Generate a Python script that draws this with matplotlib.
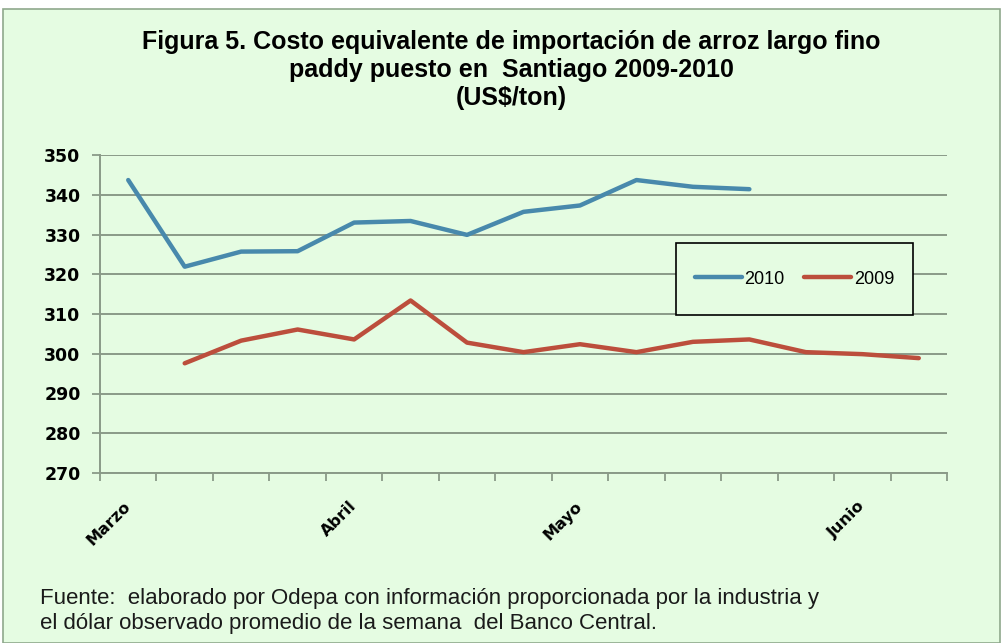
import matplotlib
matplotlib.use("Agg")
import matplotlib.pyplot as plt
from matplotlib.patches import Rectangle
from matplotlib.ticker import FixedLocator, NullFormatter

# ---- data ----
categories = list(range(15))
month_labels = {0: "Marzo", 4: "Abril", 8: "Mayo", 13: "Junio"}
s2010 = [343.7, 321.9, 325.7, 325.8, 333.0, 333.4, 329.9, 335.7, 337.3, 343.7, 342.0, 341.4,
         None, None, None]
s2009 = [None, 297.6, 303.3, 306.1, 303.6, 313.4, 302.8, 300.4, 302.4, 300.4, 303.0, 303.6,
         300.4, 299.9, 298.9]
yticks = [270, 280, 290, 300, 310, 320, 330, 340, 350]

title = ("Figura 5. Costo equivalente de importación de arroz largo fino\n"
         "paddy puesto en  Santiago 2009-2010\n(US$/ton)")
footer = ("Fuente:  elaborado por Odepa con información proporcionada por la industria y\n"
          "el dólar observado promedio de la semana  del Banco Central.")

BG = "#E5FCE2"
GRID = "#8A9A88"
C2010 = "#4889AC"
C2009 = "#BC4E3C"

W, H = 1004, 643
fig = plt.figure(figsize=(W / 100, H / 100), dpi=100, facecolor="white")

# background panel
fig.patches.append(Rectangle((3 / W, 0), (1000 - 3) / W, (643 - 9) / H,
                             transform=fig.transFigure, facecolor=BG,
                             edgecolor="#8FA88C", linewidth=1.2, zorder=-10))

ax = fig.add_axes([100 / W, 1 - 473 / H, (947 - 100) / W, (473 - 155) / H])
ax.set_facecolor("none")
ax.set_zorder(2)

xs = categories
y10 = [v if v is not None else float("nan") for v in s2010]
y09 = [v if v is not None else float("nan") for v in s2009]
l1, = ax.plot(xs, y10, color=C2010, lw=3.2, solid_capstyle="round", label="2010", zorder=3)
l2, = ax.plot(xs, y09, color=C2009, lw=3.2, solid_capstyle="round", label="2009", zorder=3)

ax.set_xlim(-0.5, len(categories) - 0.5)
ax.set_ylim(270, 350)
ax.set_yticks(yticks)
ax.set_yticklabels([str(v) for v in yticks], fontsize=12.5, fontweight="bold",
                   family="DejaVu Sans")
ax.yaxis.grid(True, color=GRID, lw=1.4, zorder=1)
ax.tick_params(axis="y", length=6, width=1.3, color=GRID, pad=8)

# x ticks
pos = sorted(month_labels)
ax.xaxis.set_major_locator(FixedLocator(pos))
ax.set_xticklabels([month_labels[p] for p in pos], rotation=45, ha="right",
                   va="center", rotation_mode="anchor", fontsize=11.5,
                   fontweight="bold", family="DejaVu Sans")
ax.tick_params(axis="x", which="major", length=0, pad=22)
ax.xaxis.set_minor_locator(FixedLocator([c - 0.5 for c in categories] + [len(categories) - 0.5]))
ax.xaxis.set_minor_formatter(NullFormatter())
ax.tick_params(axis="x", which="minor", length=6, width=1.3, color=GRID)

for s in ["top", "right"]:
    ax.spines[s].set_visible(False)
for s in ["left", "bottom"]:
    ax.spines[s].set_color(GRID)
    ax.spines[s].set_linewidth(1.4)
ax.set_axisbelow(True)

# legend box
bx0, bx1 = (676 - 100) / 847, (913 - 100) / 847
by0, by1 = (473 - 315) / 318, (473 - 243) / 318
ax.add_patch(Rectangle((bx0, by0), bx1 - bx0, by1 - by0, transform=ax.transAxes,
                       facecolor=BG, edgecolor="black", lw=1.2, zorder=4))
leg = ax.legend(handles=[l1, l2], loc="center",
                bbox_to_anchor=((bx0 + bx1) / 2, (by0 + by1) / 2),
                ncol=2, frameon=False, handlelength=2.6, handletextpad=0.15,
                columnspacing=1.1, prop={"family": "Liberation Sans", "size": 13})
leg.set_zorder(5)

fig.text(511 / W, 1 - 70 / H, title, ha="center", va="center", fontsize=18,
         fontweight="bold", family="Liberation Sans", linespacing=1.2)
fig.text(40 / W, 1 - 611 / H, footer, ha="left", va="center", fontsize=16,
         family="Liberation Sans", color="#1a1a1a", linespacing=1.2)

fig.savefig("out.png", dpi=100, facecolor="white")
